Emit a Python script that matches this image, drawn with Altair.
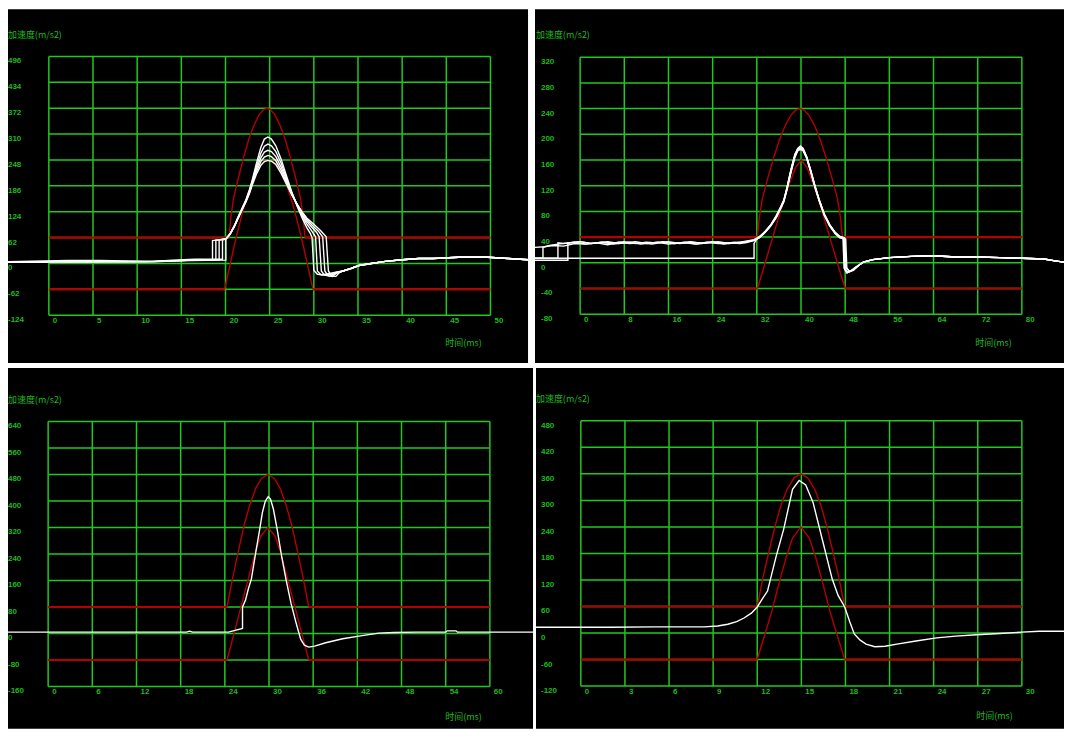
import altair as alt
import pandas as pd

GREEN = "#20c820"
LABEL_GREEN = "#1cbc1c"
RED = "#b40000"

# ---------------- Panel 1 (top-left) ----------------
P1_X_TICKS = [0, 5, 10, 15, 20, 25, 30, 35, 40, 45, 50]
P1_Y_TICKS = [-124, -62, 0, 62, 124, 186, 248, 310, 372, 434, 496]
P1_UPPER = [(0, 62), (20.4, 62), (20.6, 110), (20.9, 155), (21.4, 200), (22.0, 250), (22.6, 295),
            (23.2, 330), (23.8, 356), (24.3, 369), (24.7, 372), (25.1, 369), (25.6, 356), (26.2, 330),
            (26.8, 295), (27.4, 250), (28.0, 200), (28.5, 155), (28.8, 110), (29.0, 62), (50, 62)]
P1_LOWER = [(0, -62), (19.9, -62), (20.4, -14), (20.9, 34), (21.4, 79), (21.9, 120), (22.4, 157),
            (22.9, 189), (23.4, 215), (23.9, 233), (24.4, 244), (24.9, 248), (25.4, 244), (25.9, 233),
            (26.4, 215), (26.9, 189), (27.4, 157), (27.9, 120), (28.4, 79), (28.9, 34), (29.4, -14),
            (29.9, -62), (50, -62)]
P1_PRE = {
    "c1": [(-4.6, 4), (2.0, 4), (6.0, 5), (12.0, 5), (16.0, 7), (20.04, 8), (20.04, 57)],
    "c2": [(-4.6, 4), (2.2, 7), (5.8, 7), (11.7, 5), (14.0, 8), (16.5, 10), (19.66, 10), (19.66, 56), (19.9, 58)],
    "c3": [(-4.6, 4), (11.0, 4), (16.5, 8), (19.28, 9), (19.28, 56), (19.8, 58)],
    "c4": [(-4.6, 3), (12.0, 4), (17.0, 9), (18.91, 9), (18.91, 56), (19.6, 57)],
    "c5": [(-4.6, 4), (12.0, 5), (16.0, 8), (18.53, 8), (18.53, 55), (19.4, 57)],
}
P1_PULSE_T = [20.1, 20.5, 21.0, 21.5, 22.0, 22.3, 22.7, 23.0, 23.5, 24.0, 24.4, 24.8, 25.2, 25.7,
              26.3, 26.9, 27.5, 28.1, 28.7, 29.2]
P1_PULSE = {
    "c1": [60, 70, 90, 115, 138, 152, 176, 198, 240, 278, 298, 303, 298, 282, 250, 210, 172, 138, 108, 86],
    "c2": [60, 70, 90, 114, 137, 150, 173, 195, 232, 264, 281, 286, 282, 268, 240, 204, 170, 140, 113, 95],
    "c3": [60, 70, 89, 113, 136, 149, 171, 192, 226, 253, 267, 271, 268, 256, 231, 199, 168, 141, 117, 101],
    "c4": [60, 70, 89, 112, 135, 148, 169, 189, 220, 244, 255, 259, 256, 246, 223, 194, 166, 142, 121, 106],
    "c5": [60, 70, 88, 111, 134, 147, 167, 186, 214, 235, 244, 247, 245, 237, 216, 190, 164, 142, 123, 109],
}
P1_POST = {
    "c1": [(29.6, 72), (29.8, 62), (30.0, -16), (30.4, -26), (31.0, -27), (31.8, -24), (32.5, -21)],
    "c2": [(29.7, 80), (30.2, 64), (30.4, -18), (30.8, -27), (31.4, -28), (32.0, -25), (32.6, -21)],
    "c3": [(29.8, 86), (30.3, 75), (30.6, 64), (30.85, -18), (31.2, -28), (31.8, -30), (32.4, -24)],
    "c4": [(29.9, 90), (30.5, 78), (31.0, 64), (31.25, -18), (31.6, -29), (32.1, -31), (32.6, -23)],
    "c5": [(30.0, 94), (30.7, 80), (31.4, 64), (31.65, -18), (32.0, -30), (32.5, -31), (32.9, -22)],
}
P1_TAIL_T = [33.3, 34.2, 35.1, 36.5, 38.1, 40.0, 41.9, 43.5, 46.4, 49.7, 52.0, 54.3]
P1_TAIL_V = [-18, -12, -5, 0, 5, 9, 12, 12, 15, 15, 12, 9]

# ---------------- Panel 2 (top-right) ----------------
P2_X_TICKS = [0, 8, 16, 24, 32, 40, 48, 56, 64, 72, 80]
P2_Y_TICKS = [-80, -40, 0, 40, 80, 120, 160, 200, 240, 280, 320]
P2_UPPER = [(0, 40), (32.1, 40), (32.46, 71), (33.0, 100), (33.9, 129), (34.96, 161), (36.04, 190),
            (37.1, 213), (38.2, 230), (39.1, 238), (39.8, 240), (40.5, 238), (41.4, 230), (42.5, 213),
            (43.56, 190), (44.64, 161), (45.7, 129), (46.6, 100), (47.14, 71), (47.5, 40), (80, 40)]
P2_LOWER = [(0, -40), (32.1, -40), (33.1, -12), (34.1, 17), (35.1, 46), (36.1, 75), (37.1, 103),
            (38.1, 128), (39.0, 148), (40.05, 160), (41.1, 148), (42.0, 128), (43.0, 103), (44.0, 75),
            (45.0, 46), (46.0, 17), (47.0, -12), (48.0, -40), (80, -40)]
P2_PRE = {
    "a": [(-8.2, 24), (-6.5, 25), (-5, 27), (-3, 26), (-1, 30), (1, 29), (3, 31), (5, 28), (7, 32), (9, 30),
          (11, 31), (13, 29), (15, 32), (17, 30), (19, 31), (21, 29), (23, 32), (25, 30), (27, 31), (29, 30),
          (31.5, 35)],
    "b": [(-8.2, 7), (-6.73, 7), (-6.73, 24), (-5.5, 27), (-4, 29), (-2, 31), (0, 33), (2, 30), (4, 32),
          (6, 31), (8, 33), (10, 30), (12, 32), (14, 31), (16, 33), (18, 30), (20, 32), (22, 31), (24, 33),
          (26, 30), (28, 32), (30, 31), (31.5, 35)],
    "c": [(-8.2, 7), (-4.02, 7), (-4.02, 31), (-3, 30), (-1, 32), (1, 29), (3, 31), (5, 33), (7, 30), (9, 32),
          (11, 29), (13, 31), (15, 33), (17, 30), (19, 32), (21, 29), (23, 31), (25, 33), (27, 30), (29, 32),
          (31.5, 36)],
    "d": [(-8.2, 4), (-2.22, 4), (-2.22, 31), (0, 33), (2, 30), (4, 32), (6, 29), (8, 31), (10, 33), (12, 30),
          (14, 32), (16, 29), (18, 31), (20, 33), (22, 30), (24, 32), (26, 29), (28, 31), (30, 33), (31.5, 35)],
    "e": [(-8.2, 7), (31.5, 7), (31.5, 30), (31.9, 36)],
}
P2_PULSE_T = [32.5, 33.5, 34.5, 35.5, 36.2, 36.9, 37.5, 38.2, 38.9, 39.4, 39.9, 40.4, 41.0, 41.7,
              42.5, 43.3, 44.2, 45.2, 46.2, 47.0]
P2_PULSE = {
    "a": [40, 48, 58, 72, 84, 97, 118, 145, 168, 178, 182, 178, 166, 146, 121, 98, 76, 59, 47, 41],
    "b": [40, 48, 58, 71, 83, 96, 116, 143, 166, 176, 180, 176, 165, 145, 120, 97, 75, 58, 46, 40],
    "c": [41, 49, 59, 73, 85, 98, 119, 146, 169, 177, 179, 175, 164, 144, 119, 97, 76, 59, 47, 41],
    "d": [39, 47, 57, 70, 82, 95, 115, 141, 164, 174, 177, 174, 163, 143, 118, 96, 74, 57, 45, 39],
    "e": [40, 48, 58, 72, 84, 97, 117, 144, 167, 176, 179, 176, 165, 145, 120, 98, 76, 59, 47, 41],
}
P2_POST = {
    "a": [(47.6, 39), (47.8, -8), (48.3, -16), (49.0, -13), (49.8, -8)],
    "b": [(47.8, 38), (48.0, -9), (48.5, -15), (49.2, -12), (50.0, -7)],
    "c": [(47.9, 39), (48.1, -6), (48.7, -13), (49.4, -11), (50.2, -6)],
    "d": [(48.1, 37), (48.3, -8), (48.8, -14), (49.5, -12), (50.2, -6)],
    "e": [(47.7, 39), (47.9, -10), (48.4, -15), (49.1, -12), (50.0, -6)],
}
P2_TAIL_T = [50.6, 51.3, 53.0, 56.0, 60.0, 64.0, 68.0, 72.0, 76.0, 80.0, 84.0, 86.0, 87.6]
P2_TAIL_V = [-3, 1, 5, 8, 10, 11, 9, 9, 8, 7, 6, 3, 1]

# ---------------- Panel 3 (bottom-left) ----------------
P3_X_TICKS = [0, 6, 12, 18, 24, 30, 36, 42, 48, 54, 60]
P3_Y_TICKS = [-160, -80, 0, 80, 160, 240, 320, 400, 480, 560, 640]
P3_UPPER = [(0, 80), (24.3, 80), (25.0, 161), (25.8, 245), (26.6, 326), (27.4, 389), (28.2, 439),
            (29.0, 469), (29.85, 480), (30.7, 469), (31.5, 439), (32.3, 389), (33.1, 326), (33.9, 245),
            (34.7, 161), (35.4, 80), (60, 80)]
P3_LOWER = [(0, -80), (24.3, -80), (25.3, 5), (26.3, 90), (27.3, 175), (28.2, 250), (28.9, 295),
            (29.85, 320), (30.8, 295), (31.5, 250), (32.4, 175), (33.4, 90), (34.4, 5), (35.4, -80), (60, -80)]
P3_WHITE = [(-5.45, 4), (10, 4), (18.8, 4), (19.2, 7), (19.6, 4), (24.5, 4), (25.0, 7), (26.4, 15), (26.4, 80),
            (26.8, 100), (27.2, 135), (27.6, 164), (28.2, 245), (28.7, 310), (29.1, 365), (29.5, 400),
            (29.9, 413), (30.2, 406), (30.6, 375), (31.1, 315), (31.7, 235), (32.3, 164), (33.0, 90),
            (33.7, 30), (34.3, -17), (34.8, -35), (35.4, -41), (36.2, -38), (37.7, -28), (40.0, -16),
            (42.2, -8), (44.9, 1), (47.0, 3), (50.0, 4), (54.0, 4), (54.2, 8), (55.4, 8), (55.6, 4), (65.9, 4)]

# ---------------- Panel 4 (bottom-right) ----------------
P4_X_TICKS = [0, 3, 6, 9, 12, 15, 18, 21, 24, 27, 30]
P4_Y_TICKS = [-120, -60, 0, 60, 120, 180, 240, 300, 360, 420, 480]
P4_UPPER = [(0, 60), (12.0, 60), (12.4, 127), (12.8, 185), (13.2, 240), (13.6, 288), (14.0, 323),
            (14.5, 351), (14.97, 360), (15.44, 351), (15.94, 323), (16.34, 288), (16.74, 240),
            (17.14, 185), (17.54, 127), (17.95, 60), (30, 60)]
P4_LOWER = [(0, -60), (12.0, -60), (12.5, -5), (13.0, 50), (13.5, 115), (14.0, 175), (14.4, 215),
            (14.97, 240), (15.54, 215), (15.94, 175), (16.44, 115), (16.94, 50), (17.44, -5),
            (17.95, -60), (30, -60)]
P4_WHITE = [(-3.05, 13), (2, 13), (5, 14), (8.4, 14), (9.3, 16), (10.0, 20), (10.6, 26), (11.1, 34),
            (11.6, 45), (12.0, 59), (12.4, 80), (12.7, 95), (12.9, 122), (13.3, 175), (13.8, 235),
            (14.4, 325), (14.85, 345), (15.3, 335), (15.8, 295), (16.4, 215), (17.1, 122), (17.5, 85),
            (17.95, 59), (18.3, 25), (18.6, -2), (19.0, -16), (19.4, -25), (20.0, -31), (20.7, -30),
            (21.5, -25), (22.8, -18), (24.2, -11), (25.5, -7), (26.9, -4), (28.5, -1), (30.0, 2),
            (31.2, 4), (32.9, 4)]

Y_TITLE = "加速度(m/s2)"
X_TITLE = "时间(ms)"


def to_rows(name, pts):
    return [{"curve": name, "i": k, "t": t, "v": v} for k, (t, v) in enumerate(pts)]


def multi_curves(pre, pulse_t, pulse, post, tail_t, tail_v):
    rows = []
    for name in pre:
        pts = pre[name] + list(zip(pulse_t, pulse[name])) + post[name] + list(zip(tail_t, tail_v))
        rows += to_rows(name, pts)
    return pd.DataFrame(rows)


def panel(xt, yt, upper, lower, white_df, grid_px, view_px, lab_x, ytitle_xy, xtitle_xy):
    gl, gr, gt, gb = grid_px
    vx0, vx1, vy0, vy1 = view_px
    w, h = vx1 - vx0, vy1 - vy0
    kx = (gr - gl) / (xt[-1] - xt[0])
    ky = (gb - gt) / (yt[-1] - yt[0])
    xdom = [xt[0] - (gl - vx0) / kx, xt[-1] + (vx1 - gr) / kx]
    ydom = [yt[0] - (vy1 - gb) / ky, yt[-1] + (gt - vy0) / ky]
    xs = alt.Scale(domain=xdom, nice=False, zero=False)
    ys = alt.Scale(domain=ydom, nice=False, zero=False)

    def X(f):
        return alt.X(f, scale=xs, axis=None)

    def Y(f):
        return alt.Y(f, scale=ys, axis=None)

    vdf = pd.DataFrame({"x": xt, "y1": [yt[0]] * len(xt), "y2": [yt[-1]] * len(xt)})
    hdf = pd.DataFrame({"y": yt, "x1": [xt[0]] * len(yt), "x2": [xt[-1]] * len(yt)})
    vr = alt.Chart(vdf).mark_rule(color=GREEN, strokeWidth=1.5).encode(x=X("x:Q"), y=Y("y1:Q"), y2="y2:Q")
    hr = alt.Chart(hdf).mark_rule(color=GREEN, strokeWidth=1.5).encode(y=Y("y:Q"), x=X("x1:Q"), x2="x2:Q")

    # tick labels
    xl = alt.Chart(pd.DataFrame({"x": xt, "lab": [str(v) for v in xt]})).mark_text(
        align="left", baseline="top", dx=4, font="Liberation Sans", fontSize=8, fontWeight="bold",
        color=LABEL_GREEN
    ).encode(x=X("x:Q"), y=alt.value(gb - vy0 + 1.5), text="lab:N")
    yl = alt.Chart(pd.DataFrame({"y": yt, "lab": [str(v) for v in yt]})).mark_text(
        align="left", baseline="top", dy=1, font="Liberation Sans", fontSize=8, fontWeight="bold",
        color=LABEL_GREEN
    ).encode(y=Y("y:Q"), x=alt.value(lab_x), text="lab:N")

    # tolerance limits: horizontal band segments (first/last pair of each limit) and the pulse curves
    band_rows = []
    for lim in (upper, lower):
        band_rows.append({"x1": lim[0][0], "x2": lim[1][0], "y": lim[0][1]})
        band_rows.append({"x1": lim[-2][0], "x2": lim[-1][0], "y": lim[-1][1]})
    bands = alt.Chart(pd.DataFrame(band_rows)).mark_rule(color=RED, strokeWidth=2.2).encode(
        x=X("x1:Q"), x2="x2:Q", y=Y("y:Q"))
    red_df = pd.DataFrame(to_rows("upper", upper[1:-1]) + to_rows("lower", lower[1:-1]))
    red = alt.Chart(red_df).mark_line(color=RED, strokeWidth=1.4, clip=True).encode(
        x=X("t:Q"), y=Y("v:Q"), detail="curve:N", order="i:Q")
    white = alt.Chart(white_df).mark_line(color="white", strokeWidth=1.4, clip=True).encode(
        x=X("t:Q"), y=Y("v:Q"), detail="curve:N", order="i:Q")

    # axis titles placed in data units converted from the panel's pixel layout
    tdf = pd.DataFrame({
        "s": [Y_TITLE, X_TITLE],
        "tx": [xdom[0] + (ytitle_xy[0] - vx0) / kx, xdom[0] + (xtitle_xy[0] - vx0) / kx],
        "ty": [ydom[1] - (ytitle_xy[1] - vy0) / ky, ydom[1] - (xtitle_xy[1] - vy0) / ky],
    })
    titles = alt.Chart(tdf).mark_text(
        align="left", baseline="middle", font="Noto Sans CJK SC", fontSize=9, color=LABEL_GREEN
    ).encode(x=X("tx:Q"), y=Y("ty:Q"), text="s:N")

    return alt.layer(vr, hr, bands, red, white, xl, yl, titles).properties(width=w, height=h)


p1 = panel(P1_X_TICKS, P1_Y_TICKS, P1_UPPER, P1_LOWER,
           multi_curves(P1_PRE, P1_PULSE_T, P1_PULSE, P1_POST, P1_TAIL_T, P1_TAIL_V),
           (49, 492.3, 55.3, 315), (8, 530, 8, 363), 0, (8, 34), (447, 343))
p2 = panel(P2_X_TICKS, P2_Y_TICKS, P2_UPPER, P2_LOWER,
           multi_curves(P2_PRE, P2_PULSE_T, P2_PULSE, P2_POST, P2_TAIL_T, P2_TAIL_V),
           (582.3, 1025.7, 56, 314), (537, 1068, 8, 363), 6, (538, 34), (979, 343))
p3 = panel(P3_X_TICKS, P3_Y_TICKS, P3_UPPER, P3_LOWER, pd.DataFrame(to_rows("w", P3_WHITE)),
           (48.3, 491.7, 421.7, 687.7), (8, 535, 368, 730), 0, (8, 400), (447, 718))
p4 = panel(P4_X_TICKS, P4_Y_TICKS, P4_UPPER, P4_LOWER, pd.DataFrame(to_rows("w", P4_WHITE)),
           (583, 1025.7, 421, 687.3), (538, 1068, 368, 730), 5, (538, 399), (980, 717))

row1 = alt.hconcat(p1, p2, spacing=7)
row2 = alt.hconcat(p3, p4, spacing=3)
chart = alt.vconcat(row1, row2, spacing=5).properties(
    padding=0, background="white").configure_view(fill="black", strokeWidth=0)

chart.save("out.html", embed_options={"renderer": "svg", "actions": False})
